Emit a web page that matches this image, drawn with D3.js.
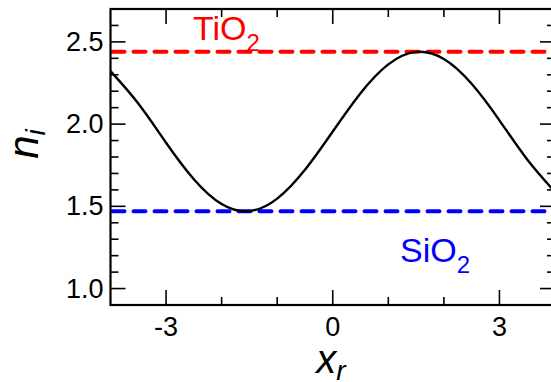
<!DOCTYPE html>
<html>
<head>
<meta charset="utf-8">
<script src="https://cdn.jsdelivr.net/npm/d3@7"></script>
<style>
  body { margin: 0; background: #fff; }
</style>
</head>
<body>
<div id="chart"></div>
<script>
// curve
const xr = [-4, -3.5, -3, -2.5, -2, -1.5, -1, -0.5, 0, 0.5, 1, 1.5, 2, 2.5, 3, 3.5, 4];
const ni = [2.322, 2.125, 1.887, 1.665, 1.514, 1.471, 1.547, 1.722, 1.955, 2.188, 2.363, 2.439, 2.396, 2.245, 2.023, 1.785, 1.588];

// reference indices
const materials = ['TiO2', 'SiO2'];
const indices = [2.44, 1.47];
const colors = ['#ff0000', '#0000ff'];

const xMajor = [-3, 0, 3];
const xMinor = [-2, -1, 1, 2];
const yMajor = [1.0, 1.5, 2.0, 2.5];
const yMinor = [1.1, 1.2, 1.3, 1.4, 1.6, 1.7, 1.8, 1.9, 2.1, 2.2, 2.3, 2.4, 2.6];

const width = 551, height = 382;
const margin = { left: 110.5, top: 9, right: -4, bottom: 77 };
// serif names fall back to DejaVu Sans here, Liberation Sans is nearer to Times in width
const font = 'Liberation Sans';

const svg = d3.select('#chart').append('svg')
  .attr('width', width)
  .attr('height', height)
  .attr('font-family', font);

const x = d3.scaleLinear().domain([-4, 4]).range([margin.left, width - margin.right]);
const y = d3.scaleLinear().domain([0.9, 2.7]).range([height - margin.bottom, margin.top]);

const x0 = x.range()[0], x1 = x.range()[1];
const y0 = y.range()[0], y1 = y.range()[1];

// ticks, all pointing inwards
const ticks = svg.append('g').attr('stroke', '#000').attr('stroke-width', 1.6);
function tick(x1_, y1_, x2_, y2_) {
  ticks.append('line').attr('x1', x1_).attr('y1', y1_).attr('x2', x2_).attr('y2', y2_);
}
const big = 15, small = 8;
xMajor.forEach(v => { tick(x(v), y0, x(v), y0 - big); tick(x(v), y1, x(v), y1 + big); });
xMinor.forEach(v => { tick(x(v), y0, x(v), y0 - small); tick(x(v), y1, x(v), y1 + small); });
yMajor.forEach(v => { tick(x0, y(v), x0 + big, y(v)); tick(x1, y(v), x1 - big, y(v)); });
yMinor.forEach(v => { tick(x0, y(v), x0 + small, y(v)); tick(x1, y(v), x1 - small, y(v)); });

// tick labels
svg.append('g').selectAll('text')
  .data(xMajor).enter().append('text')
  .attr('x', d => x(d))
  .attr('y', y0 + 31)
  .attr('text-anchor', 'middle')
  .attr('font-size', 27)
  .text(d => d);

svg.append('g').selectAll('text')
  .data(yMajor).enter().append('text')
  .attr('x', x0 - 7)
  .attr('y', d => y(d) + 9)
  .attr('text-anchor', 'end')
  .attr('font-size', 27)
  .text(d => d.toFixed(1));

// reference lines
svg.append('g').selectAll('line')
  .data(indices).enter().append('line')
  .attr('x1', x0 + 2)
  .attr('x2', x1)
  .attr('y1', d => y(d))
  .attr('y2', d => y(d))
  .attr('stroke', (d, i) => colors[i])
  .attr('stroke-width', 4)
  .attr('stroke-linecap', 'round')
  .attr('stroke-dasharray', '12,9');

// the curve
const line = d3.line()
  .x((d, i) => x(xr[i]))
  .y(d => y(d))
  .curve(d3.curveNatural);

svg.append('path')
  .datum(ni)
  .attr('d', line)
  .attr('fill', 'none')
  .attr('stroke', '#000')
  .attr('stroke-width', 2.4);

// frame
svg.append('rect')
  .attr('x', x0).attr('y', y1)
  .attr('width', x1 - x0).attr('height', y0 - y1)
  .attr('fill', 'none')
  .attr('stroke', '#000')
  .attr('stroke-width', 2.2);

// material labels
const labelPos = [[193, 40], [400, 262]];
materials.forEach((m, i) => {
  const t = svg.append('text')
    .attr('x', labelPos[i][0])
    .attr('y', labelPos[i][1])
    .attr('font-size', 34)
    .attr('fill', colors[i]);
  t.append('tspan').text(m.slice(0, 3));
  t.append('tspan').attr('font-size', 24).attr('dy', 11).text(m.slice(3));
});

// axis titles
const xt = svg.append('text')
  .attr('x', 331)
  .attr('y', 373)
  .attr('text-anchor', 'middle')
  .attr('font-size', 40)
  .attr('font-style', 'italic');
xt.append('tspan').text('x');
xt.append('tspan').attr('font-size', 28).attr('dy', 7).text('r');

const yt = svg.append('text')
  .attr('transform', 'translate(38,144) rotate(-90)')
  .attr('text-anchor', 'middle')
  .attr('font-size', 42)
  .attr('font-style', 'italic');
yt.append('tspan').text('n');
yt.append('tspan').attr('font-size', 28).attr('dy', 7).text('i');
</script>
</body>
</html>
